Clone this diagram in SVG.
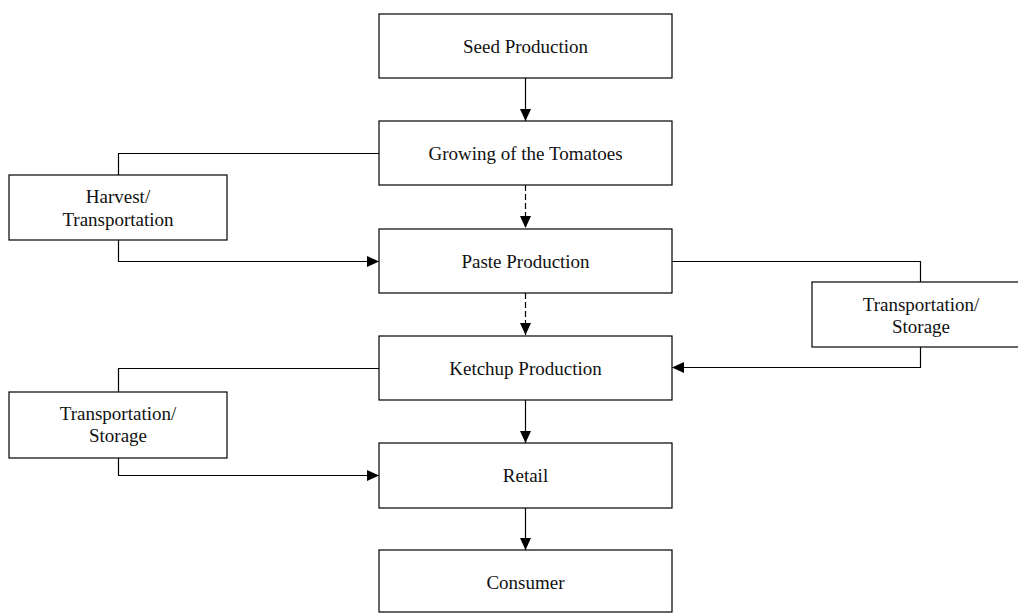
<svg xmlns="http://www.w3.org/2000/svg" width="1018" height="613" viewBox="0 0 1018 613">
  <style>
    .box { fill: #fff; stroke: #000; stroke-width: 1.2; }
    .lbl { font-family: "Liberation Serif", "Times New Roman", serif; font-size: 19px; fill: #111; text-anchor: middle; }
    .ln { fill: none; stroke: #000; stroke-width: 1.2; }
    .dash { stroke-dasharray: 6 3; }
  </style>
  <defs>
    <marker id="arrow" viewBox="0 0 12 12" refX="12" refY="6" markerWidth="12" markerHeight="12" markerUnits="userSpaceOnUse" orient="auto">
      <path d="M0,0.5 L12,6 L0,11.5 Z" fill="#000"/>
    </marker>
  </defs>
  <rect width="1018" height="613" fill="#fff"/>

  <g id="connectors">
    <path class="ln" d="M525.5,78 V121" marker-end="url(#arrow)"/>
    <path class="ln dash" d="M525.5,185 V228" marker-end="url(#arrow)"/>
    <path class="ln dash" d="M525.5,293 V335" marker-end="url(#arrow)"/>
    <path class="ln" d="M525.5,400 V443" marker-end="url(#arrow)"/>
    <path class="ln" d="M525.5,508 V550" marker-end="url(#arrow)"/>
    <!-- growing -> harvest -> paste -->
    <path class="ln" d="M379,153.5 H118.5 V175"/>
    <path class="ln" d="M118.5,240 V261.5 H379" marker-end="url(#arrow)"/>
    <!-- paste -> storage (right) -> ketchup -->
    <path class="ln" d="M672,261.5 H920.5 V282"/>
    <path class="ln" d="M920.5,347 V367.5 H672" marker-end="url(#arrow)"/>
    <!-- ketchup -> storage (left) -> retail -->
    <path class="ln" d="M379,368.5 H118.5 V392"/>
    <path class="ln" d="M118.5,458 V475.5 H379" marker-end="url(#arrow)"/>
  </g>

  <g id="seed">
    <rect class="box" x="379" y="14" width="293" height="64"/>
    <text class="lbl" x="525.5" y="52.5">Seed Production</text>
  </g>
  <g id="growing">
    <rect class="box" x="379" y="121" width="293" height="64"/>
    <text class="lbl" x="525.5" y="159.5">Growing of the Tomatoes</text>
  </g>
  <g id="harvest">
    <rect class="box" x="9" y="175" width="218" height="65"/>
    <text class="lbl" x="118" y="203">Harvest/</text>
    <text class="lbl" x="118" y="226">Transportation</text>
  </g>
  <g id="paste">
    <rect class="box" x="379" y="229" width="293" height="64"/>
    <text class="lbl" x="525.5" y="267.5">Paste Production</text>
  </g>
  <g id="storage-right">
    <rect class="box" x="812" y="282" width="218" height="65"/>
    <text class="lbl" x="921" y="311">Transportation/</text>
    <text class="lbl" x="921" y="333">Storage</text>
  </g>
  <g id="ketchup">
    <rect class="box" x="379" y="336" width="293" height="64"/>
    <text class="lbl" x="525.5" y="374.5">Ketchup Production</text>
  </g>
  <g id="storage-left">
    <rect class="box" x="9" y="392" width="218" height="66"/>
    <text class="lbl" x="118" y="420">Transportation/</text>
    <text class="lbl" x="118" y="442">Storage</text>
  </g>
  <g id="retail">
    <rect class="box" x="379" y="443" width="293" height="65"/>
    <text class="lbl" x="525.5" y="482">Retail</text>
  </g>
  <g id="consumer">
    <rect class="box" x="379" y="550" width="293" height="62"/>
    <text class="lbl" x="525.5" y="589">Consumer</text>
  </g>
</svg>
